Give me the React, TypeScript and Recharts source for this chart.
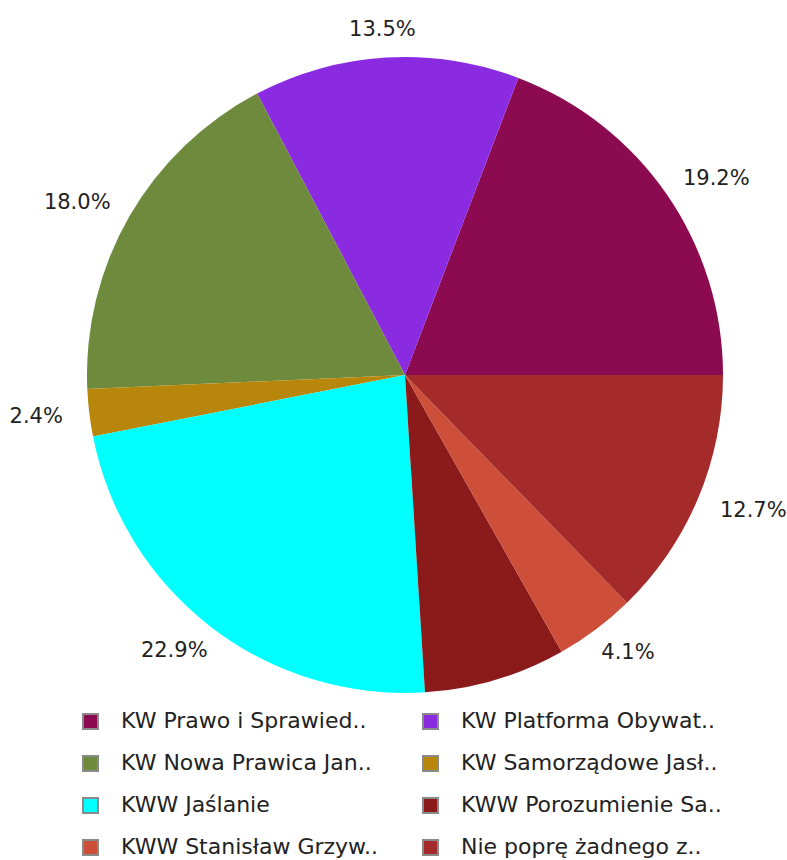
import React from 'react';
import { PieChart, Pie, Cell, Legend } from 'recharts';

const names = [
    'KW Prawo i Sprawied..',
    'KW Platforma Obywat..',
    'KW Nowa Prawica Jan..',
    'KW Samorządowe Jasł..',
    'KWW Jaślanie',
    'KWW Porozumienie Sa..',
    'KWW Stanisław Grzyw..',
    'Nie poprę żadnego z..',
];
const values = [19.2, 13.5, 18.0, 2.4, 22.9, 7.2, 4.1, 12.7];
const labels = ['19.2%', '13.5%', '18.0%', '2.4%', '22.9%', '', '4.1%', '12.7%'];
const COLORS = ['#8B0A50', '#8A2BE2', '#6E8B3D', '#B8860B', '#00FFFF', '#8B1A1A', '#CD4F39', '#A52A2A'];

const data = names.map((name, i) => ({ name, value: values[i], label: labels[i] }));

const FONT = '"DejaVu Sans", sans-serif';
const RAD = Math.PI / 180;

// labels sit just outside the rim and grow outward from that point
const renderLabel = (props: any) => {
    const { cx, cy, midAngle, outerRadius, index } = props;
    const text = labels[index];
    if (!text) return null;
    const r = outerRadius + 27;
    const cos = Math.cos(-midAngle * RAD);
    const sin = Math.sin(-midAngle * RAD);
    const halfW = (text.length * 13.2) / 2;
    const x = cx + r * cos + cos * halfW;
    const y = cy + r * sin + sin * 2;
    return (
        <text x={x} y={y} fill="#222" fontSize={21} fontFamily={FONT}
            textAnchor="middle" dominantBaseline="central">
            {text}
        </text>
    );
};

const LegendGrid = () => (
    <div style={{ display: 'grid', gridTemplateColumns: '340px 340px', fontFamily: FONT, fontSize: 22, lineHeight: '24px', color: '#222' }}>
        {data.map((d, i) => (
            <div key={d.name} style={{ display: 'flex', alignItems: 'center', height: 42, whiteSpace: 'nowrap' }}>
                <span style={{ width: 13, height: 13, background: COLORS[i], border: '2px solid #8a8a8a', marginRight: 22, flexShrink: 0 }} />
                <span>{d.name}</span>
            </div>
        ))}
    </div>
);

export default function App() {
    return (
        <div style={{ position: 'absolute', left: 0, top: 0, width: 787, height: 860, background: '#fff' }}>
            <PieChart width={787} height={860} margin={{ top: 0, right: 0, bottom: 0, left: 0 }}>
                <Pie
                    data={data}
                    dataKey="value"
                    cx={405}
                    cy={375}
                    outerRadius={318}
                    startAngle={0}
                    endAngle={360}
                    stroke="none"
                    label={renderLabel}
                    labelLine={false}
                    isAnimationActive={false}
                >
                    {data.map((_, i) => (
                        <Cell key={`cell-${i}`} fill={COLORS[i]} />
                    ))}
                </Pie>
                <Legend
                    content={() => <LegendGrid />}
                    wrapperStyle={{ position: 'absolute', left: 82, top: 700, width: 700 }}
                />
            </PieChart>
        </div>
    );
}
